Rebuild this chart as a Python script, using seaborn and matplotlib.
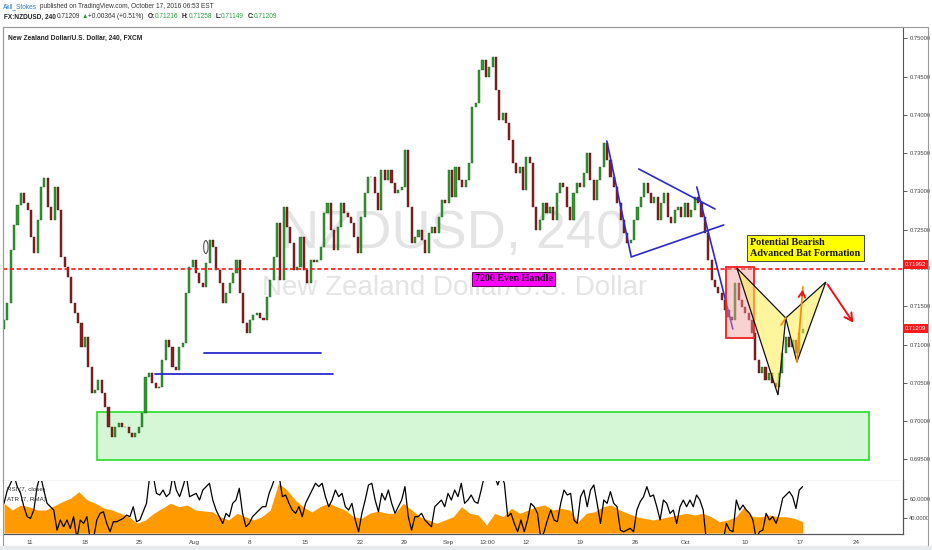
import numpy as np
import pandas as pd
import matplotlib
matplotlib.use("Agg")
import matplotlib.pyplot as plt
import seaborn as sns
from matplotlib.patches import Rectangle, Polygon, Ellipse

# ---------------- data ----------------
closes = [
    0.7132, 0.7154, 0.7224, 0.7256, 0.7282, 0.7298, 0.7285, 0.7276, 0.7240, 0.7220,
    0.7263, 0.7306, 0.7318, 0.7280, 0.7263, 0.7306, 0.7276, 0.7214, 0.7201, 0.7188,
    0.7154, 0.7141, 0.7128, 0.7097, 0.7110, 0.7071, 0.7037, 0.7041, 0.7054, 0.7037,
    0.7018, 0.6992, 0.6979, 0.6992, 0.6998, 0.6992, 0.6992, 0.6985, 0.6979, 0.6985,
    0.6992, 0.7011, 0.7058, 0.7063, 0.7050, 0.7043, 0.7045, 0.7080, 0.7106, 0.7097,
    0.7071, 0.7067, 0.7097, 0.7102, 0.7167, 0.7201, 0.7210, 0.7193, 0.7180, 0.7175,
    0.7207, 0.7237, 0.7227, 0.7197,
    0.7180, 0.7154, 0.7167, 0.7180, 0.7193, 0.7210, 0.7167, 0.7128, 0.7115, 0.7132,
    0.7139, 0.7141, 0.7135, 0.7132, 0.7162, 0.7184, 0.7214, 0.7259, 0.7184, 0.7280,
    0.7254, 0.7233, 0.7197, 0.7201, 0.7240, 0.7197, 0.7180, 0.7210, 0.7208, 0.7210,
    0.7227, 0.7272, 0.7285, 0.7250, 0.7224, 0.7254, 0.7285, 0.7272, 0.7267, 0.7259,
    0.7240, 0.7220, 0.7267, 0.7298, 0.7319, 0.7319, 0.7298, 0.7276, 0.7328, 0.7315,
    0.7328, 0.7311, 0.7298, 0.7302, 0.7306, 0.7354, 0.7280, 0.7233, 0.7240,
    0.7250, 0.7237, 0.7220, 0.7246, 0.7254, 0.7246, 0.7267, 0.7289, 0.7285, 0.7328,
    0.7293, 0.7332, 0.7315, 0.7306, 0.7315, 0.7337, 0.7410, 0.7415, 0.7459, 0.7472,
    0.7449, 0.7463, 0.7476, 0.7432, 0.7393, 0.7402, 0.7389, 0.7367, 0.7337, 0.7324,
    0.7332, 0.7302, 0.7345, 0.7337, 0.7280, 0.7250, 0.7263, 0.7285, 0.7272, 0.7280,
    0.7263, 0.7298, 0.7311, 0.7306, 0.7280, 0.7263, 0.7298, 0.7311, 0.7306, 0.7324,
    0.7350, 0.7315, 0.7289, 0.7315, 0.7332, 0.7363, 0.7341, 0.7319, 0.7306, 0.7285,
    0.7263, 0.7246, 0.7233, 0.7237, 0.7263, 0.7280, 0.7293, 0.7311,
    0.7298, 0.7285, 0.7293, 0.7263, 0.7285, 0.7298, 0.7267, 0.7259, 0.7276, 0.7280,
    0.7267, 0.7285, 0.7267, 0.7276, 0.7293, 0.7285, 0.7267, 0.7246, 0.7210, 0.7184,
    0.7175, 0.7167, 0.7158, 0.7145, 0.7136, 0.7132, 0.7180, 0.7158, 0.7149, 0.7141,
    0.7132, 0.7115, 0.7080, 0.7063, 0.7071, 0.7054, 0.7063, 0.7050, 0.7045, 0.7063,
    0.7089, 0.7110, 0.7097, 0.7106, 0.7089, 0.7115, 0.71209,
]
first_open = 0.7120

rsi = [
    55.4, 69.4, 76.5, 85, 73.0, 65.9, 51.9, 41.4, 39.6, 48.4,
    73.0, 85, 69.4, 55.4, 51.9, 48.4, 27.3, 37.9, 30.8, 37.9,
    29.1, 41.4, 18, 37.9, 34.3, 41.4, 18, 18, 37.9, 44.9,
    46.6, 34.3, 25.6, 36.1, 36.1, 37.9, 39.6, 43.1, 41.4, 51.9,
    36.1, 37.9, 46.6, 55.4, 85, 85, 65.9, 64.2, 69.4, 62.4,
    65.9, 85, 69.4, 62.4, 73.0, 85, 62.4, 64.2, 65.9, 58.9,
    69.4, 73.0, 76.5, 58.9, 48.4, 41.4, 34.3, 44.9, 41.4, 55.4,
    58.9, 71.2, 44.9, 30.8, 34.3, 41.4, 44.9, 48.4, 51.9, 51.9,
    65.9, 74.7, 85, 85, 62.4, 64.2, 55.4, 48.4, 44.9, 51.9,
    41.4, 55.4, 62.4, 69.4, 76.5, 73.0, 76.5, 62.4, 51.9, 58.9,
    69.4, 62.4, 65.9, 51.9, 48.4, 55.4, 37.9, 25.6, 44.9, 58.9,
    74.7, 76.5, 58.9, 46.6, 65.9, 58.9, 69.4, 55.4, 44.9, 51.9,
    58.9, 73.0, 41.4, 27.3, 41.4, 41.4, 44.9, 37.9, 34.3, 30.8,
    51.9, 55.4, 58.9, 51.9, 65.9, 58.9, 69.4, 62.4, 76.5, 55.4,
    58.9,
    64.2, 57.2, 55.4, 69.4, 85, 85, 85, 85, 74.7, 85,
    76.5, 41.4, 44.9, 34.3, 25.6, 37.9, 25.6, 37.9, 55.4, 51.9,
    44.9, 18, 25.6, 37.9, 48.4, 37.9, 36.1, 55.4, 69.4, 64.2,
    65.9, 37.9, 34.3, 62.4, 69.4, 51.9, 69.4, 74.7, 55.4, 34.3,
    58.9, 55.4, 67.7, 55.4, 51.9, 27.3, 25.6, 27.3, 29.1, 25.6,
    48.4, 57.2, 62.4, 73.0, 62.4, 64.2, 51.9, 37.9, 58.9, 55.4,
    44.9, 48.4, 34.3, 51.9, 58.9, 51.9, 58.9, 51.9, 64.2, 58.9,
    48.4, 15, 15, 15, 15, 15, 15, 34.3, 27.3, 25.6,
    58.9, 48.4, 53.6, 48.4, 44.9, 37.9, 18, 25.6, 27.3, 44.9,
    37.9, 41.4, 34.3, 44.9, 60.7, 64.2, 67.7, 62.4, 50.1, 69.4,
    73.0,
]

atr_pips = [
    29.7, 23, 28, 26.3, 23, 23, 27, 31.3, 34.7, 41.3,
    33, 29.7, 25, 23, 19.7, 16.3, 9.7, 13, 19.7, 24.7,
    29.7, 26.3, 28, 23, 22, 21.3, 16.3, 13, 19.7, 16.3,
    13, 16.3, 23, 49.7, 43, 33, 26, 21, 26.3, 29.7,
    26.3, 23, 16.3, 14.7, 20, 22, 19.7, 19.7, 29.7, 23,
    16.3, 13, 9.7, 13, 16.3, 26.3,
    19.7, 18, 8, 19.7, 16.3, 24.7, 19.7, 23, 26.3, 28,
    23, 24.7, 23, 11.3, 19.7, 21.3, 26.3, 28, 23, 19.7,
    16.3, 14.7, 13, 14.7, 16.3, 18, 19.7, 18, 19.7, 16.3,
    11.3, 13, 16.3, 26.3, 16.3, 16.3, 18, 16.3, 16.3, 14.7,
    11.3,
]

x_tick_labels = ["11", "18", "25", "Aug", "8", "15", "22", "29", "Sep", "13:00",
                 "12", "19", "26", "Oct", "10", "17", "24"]
x_tick_bars = [7.7, 24.0, 40.1, 56.4, 73.0, 89.3, 105.6, 118.7, 131.8, 143.3,
               154.9, 170.9, 187.2, 202.4, 219.9, 236.2, 252.8]
price_ticks = [0.695, 0.700, 0.705, 0.710, 0.715, 0.720, 0.725, 0.730,
               0.735, 0.740, 0.745, 0.750]
rsi_ticks = [40, 60]

handle_level = 0.71992
last_price = 0.71209
zone_bars = [27.6, 256.7]
zone_prices = [0.6949, 0.7012]
support_bars = [[44.8, 97.6], [59.3, 94.1]]
support_prices = [0.70616, 0.70890]
trend_bars = [[178.9, 186.1], [188.4, 211.0], [186.1, 213.6], [205.6, 216.3]]
trend_prices = [[0.73659, 0.72157], [0.73293, 0.72771], [0.72144, 0.72562], [0.73058, 0.71203]]
box_bars = [214.2, 222.6]
box_prices = [0.71086, 0.72013]
bat_bars = [217.5, 229.7, 232.0, 235.3, 243.9]
bat_prices = [0.72000, 0.70341, 0.71347, 0.70772, 0.71817]
up_arrow_end = [237.1, 0.71752]
down_arrow_end = [252.5, 0.71256]
small_leg_bars = [230.6, 232.0]
small_leg_prices = [0.71256, 0.71347]
circle_mark = [59.9, 0.72274]

# ---------------- style ----------------
sns.set_theme(style="white")
plt.rcParams['font.family'] = ['Liberation Sans', 'DejaVu Sans']

W, H = 932, 550
fig = plt.figure(figsize=(W / 100, H / 100), dpi=100)
fig.patch.set_facecolor('white')


def fx(x):
    return x / W


def fy(y):
    return 1 - y / H


ax = fig.add_axes([fx(3), fy(481), 900 / W, 454 / H])
ind = fig.add_axes([fx(3), fy(534), 900 / W, 53 / H])

n = len(closes)
bars = np.arange(n)
opens = [first_open] + closes[:-1]
df = pd.DataFrame({"bar": bars, "open": opens, "close": closes})
df["up"] = df["close"] >= df["open"]
body = (df["close"] - df["open"]).abs()
bottom = df[["open", "close"]].min(axis=1)
face = np.where(df["up"], "#2f9a2f", "#8e1f1f")
edge = np.where(df["up"], "#1b5e1b", "#4a1010")

xlim = (-0.3, 266.8)

# watermark
ax.text(fx(453), fy(234), "NZDUSD, 240", transform=fig.transFigure, ha='center', va='center',
        fontsize=39, color='#e4e4e4', zorder=0)
ax.text(fx(455), fy(288), "New Zealand Dollar/U.S. Dollar", transform=fig.transFigure,
        ha='center', va='center', fontsize=20, color='#e4e4e4', zorder=0)

# green zone
ax.add_patch(Rectangle((zone_bars[0], zone_prices[0]), zone_bars[1] - zone_bars[0],
                       zone_prices[1] - zone_prices[0], fc='#d6f7d6', ec='#33e033', lw=1.3, zorder=1))

# candles
ax.bar(df["bar"], np.maximum(body, 0.00004), bottom=bottom, width=0.62, color=face,
       edgecolor=edge, linewidth=0.3, zorder=3)

# level line
ax.axhline(handle_level, color='#ff1111', lw=1.2, ls=(0, (2.5, 1.6)), zorder=4)

# support lines
for bx, p in zip(support_bars, support_prices):
    ax.plot(bx, [p, p], color='#2a2ad0', lw=1.3, zorder=4)
for bx, p in zip(trend_bars, trend_prices):
    ax.plot(bx, p, color='#2a2ad0', lw=1.2, zorder=4)

# red box
ax.add_patch(Rectangle((box_bars[0], box_prices[0]), box_bars[1] - box_bars[0],
                       box_prices[1] - box_prices[0], fc=(0.96, 0.6, 0.6, 0.45), ec='#ee2020',
                       lw=1.3, zorder=5))

# bat pattern
pts = list(zip(bat_bars, bat_prices))
ax.add_patch(Polygon([pts[0], pts[1], pts[2]], closed=True, fc=(1, 0.93, 0.3, 0.55),
                     ec='#111111', lw=0.9, zorder=6))
ax.add_patch(Polygon([pts[2], pts[3], pts[4]], closed=True, fc=(1, 0.93, 0.3, 0.55),
                     ec='#111111', lw=0.9, zorder=6))
ax.plot(small_leg_bars, small_leg_prices, color='#ff8c00', lw=1.2, zorder=7)
ax.plot([bat_bars[3], up_arrow_end[0]], [bat_prices[3], up_arrow_end[1]], color='#ff8c00',
        lw=1.3, zorder=7)
ax.annotate("", xy=(up_arrow_end[0], up_arrow_end[1]),
            xytext=(up_arrow_end[0] - 0.35, up_arrow_end[1] - 0.0015),
            arrowprops=dict(arrowstyle='->,head_length=0.35,head_width=0.2', color='#ee1111', lw=1.3),
            zorder=8)
ax.annotate("", xy=(down_arrow_end[0], down_arrow_end[1]), xytext=(bat_bars[4], bat_prices[4]),
            arrowprops=dict(arrowstyle='->,head_length=0.45,head_width=0.25', color='#ee1111', lw=1.4),
            zorder=8)

# small ellipse mark
ax.add_patch(Ellipse((circle_mark[0], circle_mark[1]), 1.3, 0.0017, fill=False, ec='#555555',
                     lw=0.8, zorder=7))

ax.set_xlim(*xlim)
ax.set_ylim(0.692182, 0.751475)
ax.set_xticks([])
ax.yaxis.tick_right()
ax.set_yticks(price_ticks)
ax.set_yticklabels([f"{v:.5f}" for v in price_ticks])
ax.tick_params(axis='y', labelsize=4.2, length=3, width=0.6, colors='#444444', pad=1.5)
for s in ['left', 'top']:
    ax.spines[s].set_color('#9a9a9a')
    ax.spines[s].set_linewidth(0.8)
for s in ['right', 'bottom']:
    ax.spines[s].set_color('#555555')
    ax.spines[s].set_linewidth(0.8)

# annotations text
fig.text(fx(513.5), fy(278.5), "7200 Even Handle", ha='center', va='center', fontsize=7.2,
         fontweight='bold', family=['Liberation Serif', 'DejaVu Serif'], color='#220022',
         bbox=dict(boxstyle='square,pad=0.25', fc='#ff00ff', ec='#660066', lw=0.7), zorder=10)
fig.text(fx(750.5), fy(248), "Potential Bearish\nAdvanced Bat Formation", ha='left', va='center',
         fontsize=7.3, fontweight='bold', family=['Liberation Serif', 'DejaVu Serif'],
         color='#111111', linespacing=1.25,
         bbox=dict(boxstyle='square,pad=0.3', fc='#ffff00', ec='#444444', lw=0.7), zorder=10)

# price labels on the axis
fig.text(fx(915.5), fy(264.5), "0.71992", ha='center', va='center', fontsize=4.2, color='white',
         bbox=dict(boxstyle='square,pad=0.3', fc='#ff1a1a', ec='none'), zorder=10)
fig.text(fx(915.5), fy(328.6), "0.71209", ha='center', va='center', fontsize=4.2, color='white',
         bbox=dict(boxstyle='square,pad=0.3', fc='#ff1a1a', ec='none'), zorder=10)

# ---------------- indicator panel ----------------
atr_x = np.linspace(0, n - 1, len(atr_pips))
ind.fill_between(atr_x, 0, atr_pips, color='#ff9a00', lw=0, zorder=1)
ind.set_ylim(-1, 52)
ind.set_xlim(*xlim)
ind.set_yticks([])
rsi_ax = ind.twinx()
rsi_x = np.linspace(0, n - 1, len(rsi))
sns.lineplot(x=rsi_x, y=rsi, ax=rsi_ax, color='black', lw=0.9, sort=False)
rsi_ax.set_ylim(23.2, 78.9)
rsi_ax.set_xlim(*xlim)
rsi_ax.set_yticks(rsi_ticks)
rsi_ax.set_yticklabels([f"{v:.4f}" for v in rsi_ticks])
rsi_ax.set_ylabel("")
rsi_ax.tick_params(axis='y', labelsize=4.2, length=3, width=0.6, colors='#444444', pad=1.5)
ind.set_xticks(x_tick_bars)
ind.set_xticklabels(x_tick_labels)
ind.tick_params(axis='x', labelsize=4.5, length=2, width=0.6, colors='#444444', pad=2)
for a in (ind, rsi_ax):
    for s in ['left', 'top']:
        a.spines[s].set_color('#9a9a9a')
        a.spines[s].set_linewidth(0.6)
    for s in ['right', 'bottom']:
        a.spines[s].set_color('#555555')
        a.spines[s].set_linewidth(0.8)
rsi_ax.spines['top'].set_visible(False)
ind.spines['top'].set_visible(False)
fig.text(fx(7), fy(490), "RSI (7, close)", fontsize=4.5, color='#333333', va='center')
fig.text(fx(7), fy(499), "ATR (7, RMA)", fontsize=4.5, color='#333333', va='center')

# ---------------- frame and header ----------------
fig.add_artist(Rectangle((fx(3), fy(546)), 925 / W, 519 / H, transform=fig.transFigure,
                         fill=False, ec='#9a9a9a', lw=0.8))
fig.add_artist(Rectangle((0, 0), 1, 4 / H, transform=fig.transFigure, fc='#e8ebee', ec='none'))

fig.text(fx(8), fy(38), "New Zealand Dollar/U.S. Dollar, 240, FXCM", fontsize=4.8,
         fontweight='bold', color='#222222', va='center')
fig.text(fx(3), fy(7), "Akil_Stokes", fontsize=4.7, color='#2a78c8', va='center')
fig.text(fx(40.5), fy(7), "published on TradingView.com, October 17, 2016 06:53 EST",
         fontsize=4.7, color='#333333', va='center')
green = '#2ea043'
hdr = [
    (4, "FX:NZDUSD, 240", '#222222', 'bold'),
    (57, "0.71209", '#333333', 'normal'),
    (82, "\u25B2", green, 'normal'),
    (88, "+0.00364 (+0.51%)", '#333333', 'normal'),
    (148, "O:", '#222222', 'bold'),
    (155, "0.71216", green, 'normal'),
    (182, "H:", '#222222', 'bold'),
    (189, "0.71258", green, 'normal'),
    (216, "L:", '#222222', 'bold'),
    (221, "0.71149", green, 'normal'),
    (248, "C:", '#222222', 'bold'),
    (254, "0.71209", green, 'normal'),
]
for x, t, c, w in hdr:
    fig.text(fx(x), fy(17), t, fontsize=4.7, color=c, fontweight=w, va='center')

fig.savefig("out.png", dpi=100, facecolor='white')
